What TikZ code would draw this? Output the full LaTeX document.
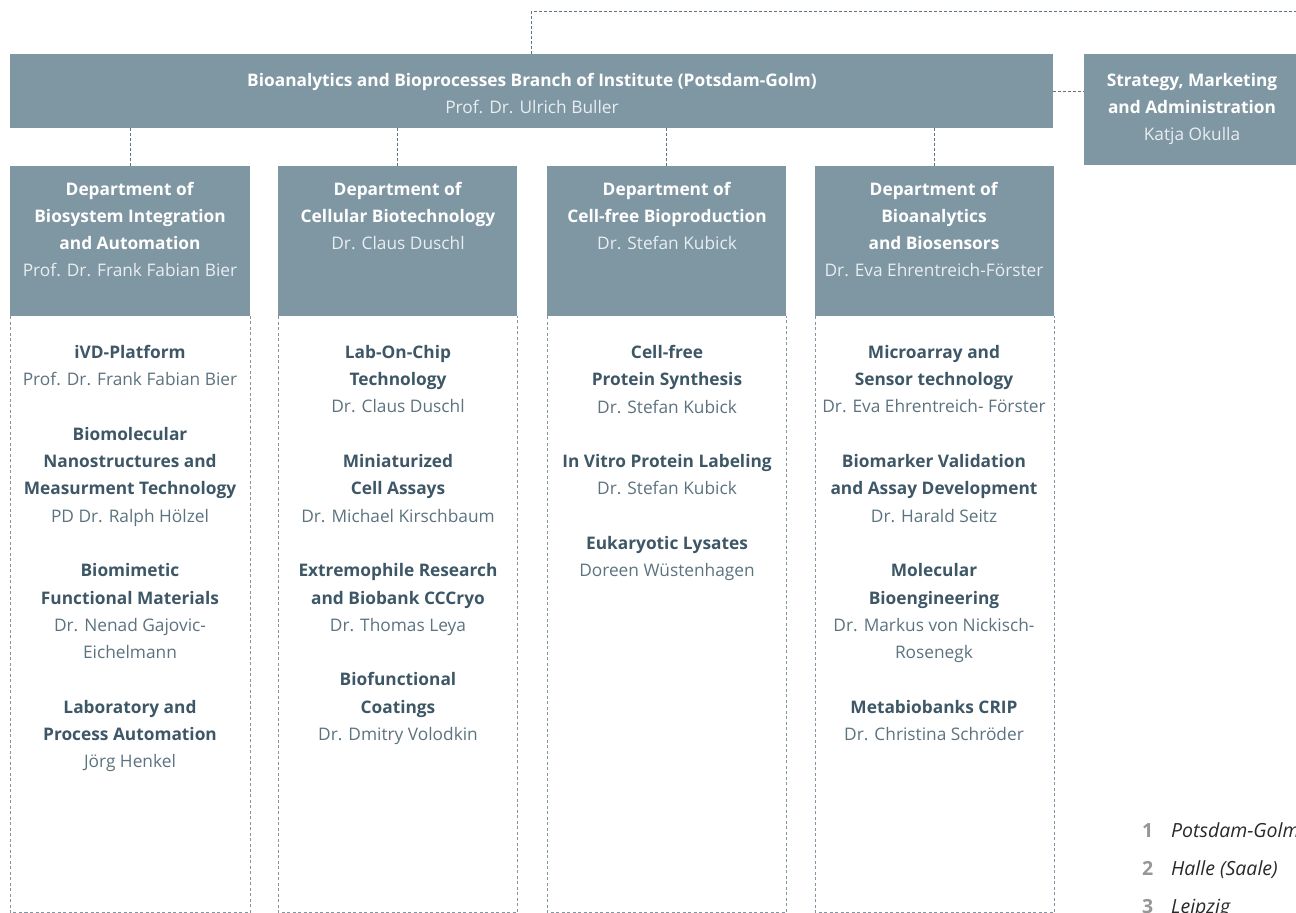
\documentclass[tikz,border=0pt]{standalone}
\usepackage{fontspec}
\setmainfont{Open Sans}
\definecolor{boxfill}{RGB}{127,151,163}
\definecolor{boxname}{RGB}{232,238,241}
\definecolor{colbold}{RGB}{62,87,102}
\definecolor{colname}{RGB}{92,114,127}
\definecolor{dashc}{RGB}{95,117,132}
\definecolor{outline}{RGB}{130,150,162}
\definecolor{legnum}{RGB}{150,150,150}
\definecolor{legtext}{RGB}{40,40,40}
\newcommand{\ctitle}[1]{{\bfseries\color{colbold}#1}}
\newcommand{\cname}[1]{{\color{colname}#1}}
\newcommand{\bname}[1]{{\color{boxname}#1}}
\begin{document}
\begin{tikzpicture}[x=1pt,y=-1pt,
  box/.style={fill=boxfill, draw=none, inner sep=0pt, anchor=north west},
  hd/.style={font=\fontsize{17.3}{27}\selectfont, align=center, inner sep=0pt, text=white, anchor=north},
  coltext/.style={font=\fontsize{17.3}{27.3}\selectfont, align=center, inner sep=0pt, anchor=north},
  conn/.style={draw=dashc, line width=0.9pt, dash pattern=on 3pt off 2pt},
  outl/.style={draw=outline, line width=0.9pt, dash pattern=on 3pt off 2.5pt},
  leg/.style={font=\fontsize{19.5}{22}\selectfont, inner sep=0pt, anchor=base west}]
\useasboundingbox (0,0) rectangle (1296,913);

% boxes
\node[box, minimum width=1043pt, minimum height=74pt] (main) at (10,54) {};
\node[box, minimum width=216pt, minimum height=111pt] (strat) at (1084,54) {};
\node[box, minimum width=240pt, minimum height=150pt] (d1) at (10,166) {};
\node[box, minimum width=239pt, minimum height=150pt] (d2) at (278,166) {};
\node[box, minimum width=239pt, minimum height=150pt] (d3) at (547,166) {};
\node[box, minimum width=239pt, minimum height=150pt] (d4) at (815,166) {};

% header texts
\node[hd] (maint) at (532,73) {\textbf{Bioanalytics and Bioprocesses Branch of Institute (Potsdam-Golm)}\\\bname{Prof. Dr. Ulrich Buller}};
\node[hd] (stratt) at (1192,73) {\textbf{Strategy, Marketing}\\\textbf{and Administration}\\\bname{Katja Okulla}};
\node[hd] (d1t) at (130,182) {\textbf{Department of}\\\textbf{Biosystem Integration}\\\textbf{and Automation}\\\bname{Prof. Dr. Frank Fabian Bier}};
\node[hd] (d2t) at (398,182) {\textbf{Department of}\\\textbf{Cellular Biotechnology}\\\bname{Dr. Claus Duschl}};
\node[hd] (d3t) at (667,182) {\textbf{Department of}\\\textbf{Cell-free Bioproduction}\\\bname{Dr. Stefan Kubick}};
\node[hd] (d4t) at (934,182) {\textbf{Department of}\\\textbf{Bioanalytics}\\\textbf{and Biosensors}\\\bname{Dr. Eva Ehrentreich-Förster}};

% connectors
\coordinate (topr) at (1296,11);
\draw[conn] (main.north) -- (main.north |- topr) -- (topr);
\draw[conn] (main.east) -- (strat.west |- main.east);
\foreach \d in {d1,d2,d3,d4}{
  \draw[conn] (\d.north |- main.south) -- (\d.north);
}

% column outlines
\foreach \d in {d1,d2,d3,d4}{
  \coordinate (\d bl) at ([yshift=-596pt]\d.south west);
  \coordinate (\d br) at ([yshift=-596pt]\d.south east);
  \draw[outl] (\d.south west) -- (\d bl) -- (\d br) -- (\d.south east);
}

% column texts
\node[coltext] (c1) at (130,345) {\ctitle{iVD-Platform}\\\cname{Prof. Dr. Frank Fabian Bier}\\[27.3pt]
\ctitle{Biomolecular}\\\ctitle{Nanostructures and}\\\ctitle{Measurment Technology}\\\cname{PD Dr. Ralph Hölzel}\\[27.3pt]
\ctitle{Biomimetic}\\\ctitle{Functional Materials}\\\cname{Dr. Nenad Gajovic-}\\\cname{Eichelmann}\\[27.3pt]
\ctitle{Laboratory and}\\\ctitle{Process Automation}\\\cname{Jörg Henkel}};

\node[coltext] (c2) at (398,345) {\ctitle{Lab-On-Chip}\\\ctitle{Technology}\\\cname{Dr. Claus Duschl}\\[27.3pt]
\ctitle{Miniaturized}\\\ctitle{Cell Assays}\\\cname{Dr. Michael Kirschbaum}\\[27.3pt]
\ctitle{Extremophile Research}\\\ctitle{and Biobank CCCryo}\\\cname{Dr. Thomas Leya}\\[27.3pt]
\ctitle{Biofunctional}\\\ctitle{Coatings}\\\cname{Dr. Dmitry Volodkin}};

\node[coltext] (c3) at (667,345) {\ctitle{Cell-free}\\\ctitle{Protein Synthesis}\\\cname{Dr. Stefan Kubick}\\[27.3pt]
\ctitle{In Vitro Protein Labeling}\\\cname{Dr. Stefan Kubick}\\[27.3pt]
\ctitle{Eukaryotic Lysates}\\\cname{Doreen Wüstenhagen}};

\node[coltext] (c4) at (934,345) {\ctitle{Microarray and}\\\ctitle{Sensor technology}\\\cname{Dr. Eva Ehrentreich- Förster}\\[27.3pt]
\ctitle{Biomarker Validation}\\\ctitle{and Assay Development}\\\cname{Dr. Harald Seitz}\\[27.3pt]
\ctitle{Molecular}\\\ctitle{Bioengineering}\\\cname{Dr. Markus von Nickisch-}\\\cname{Rosenegk}\\[27.3pt]
\ctitle{Metabiobanks CRIP}\\\cname{Dr. Christina Schröder}};

% legend
\node[leg, text=legnum] (n1) at (1142,837) {\textbf{1}};
\node[leg, text=legtext] (l1) at (1171,837) {\itshape Potsdam-Golm};
\node[leg, text=legnum] (n2) at (1142,875) {\textbf{2}};
\node[leg, text=legtext] (l2) at (1171,875) {\itshape Halle (Saale)};
\node[leg, text=legnum] (n3) at (1142,913) {\textbf{3}};
\node[leg, text=legtext] (l3) at (1171,913) {\itshape Leipzig};
\end{tikzpicture}
\end{document}
